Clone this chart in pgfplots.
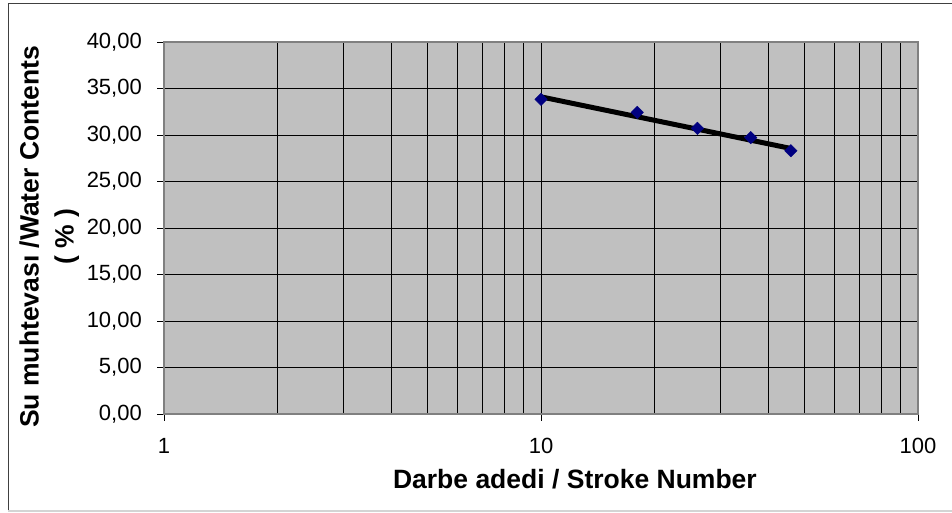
\documentclass[border=0pt]{standalone}
\usepackage{pgfplots}
\pgfplotsset{compat=1.18}
\usepackage{fontspec}
\setmainfont{Liberation Sans}
\definecolor{plotbg}{HTML}{C0C0C0}
\definecolor{navyblue}{HTML}{000080}
\definecolor{framegray}{HTML}{808080}
\definecolor{borderdark}{HTML}{404040}
\definecolor{borderlight}{HTML}{D4D4D4}
\begin{document}
\begin{tikzpicture}[x=1bp,y=1bp]
\useasboundingbox (0,0) rectangle (952,513);
\draw[borderdark, line width=1bp] (8,2) -- (8,509) -- (960,509);
\draw[borderlight, line width=1.5bp] (8,2) -- (960,2);
\begin{axis}[
  at={(164bp,99bp)}, anchor=south west,
  scale only axis, width=754bp, height=372bp,
  xmode=log, xmin=1, xmax=100, ymin=0, ymax=40,
  xtick={1,10,100}, xticklabels={1,10,100},
  minor xtick={2,3,...,9,20,30,...,90},
  ytick={0,5,...,40},
  grid=both,
  major grid style={black, line width=0.9bp},
  minor grid style={black, line width=0.9bp},
  axis background/.style={fill=plotbg},
  axis line style={draw=framegray, line width=1.5bp},
  tick align=outside, major tick length=7bp, minor tick length=0pt,
  tick style={black, line width=0.9bp},
  xtick pos=bottom, ytick pos=left,
  /pgf/number format/assume math mode=true,
  tick label style={font=\fontsize{22bp}{26bp}\selectfont},
  yticklabel style={/pgf/number format/fixed, /pgf/number format/fixed zerofill,
    /pgf/number format/precision=2, /pgf/number format/use comma,
    anchor=east, inner sep=0pt, xshift=-15bp},
  xticklabel style={anchor=north, inner sep=0pt, yshift=-17bp},
  xlabel={Darbe adedi / Stroke Number},
  xlabel style={font=\fontsize{26.5bp}{30bp}\selectfont\bfseries,
    at={(axis description cs:0.545,-0.199)}, anchor=base},
  ylabel={Su muhtevası /Water Contents\\( \% )},
  ylabel style={font=\fontsize{26.5bp}{35bp}\selectfont\bfseries, align=center,
    at={(axis description cs:-0.152,0.476)}, anchor=center},
]
\addplot[only marks, mark=square*, mark size=4.4bp,
  mark options={fill=navyblue, draw=navyblue, rotate=45}]
  coordinates {(10,33.84) (18,32.44) (26,30.72) (36,29.71) (46,28.31)};
\addplot[black, line width=5bp] coordinates {(10,34.1) (46,28.55)};
\end{axis}
\end{tikzpicture}
\end{document}
